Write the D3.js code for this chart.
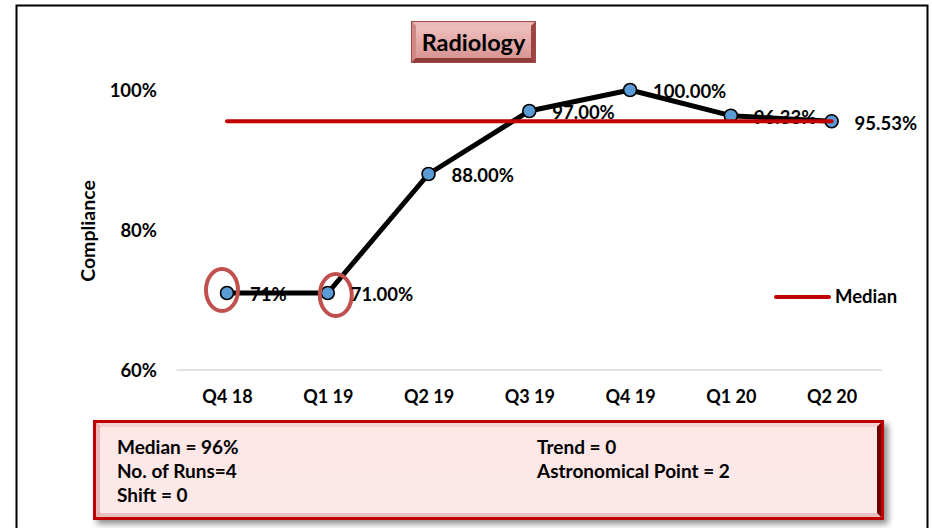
<!DOCTYPE html>
<html>
<head>
<meta charset="utf-8">
<script src="https://cdn.jsdelivr.net/npm/d3@7"></script>
<style>
  html, body { margin: 0; padding: 0; background: #fff; }
  svg { display: block; }
  text { font-family: Lato, "Open Sans", sans-serif; font-weight: bold; fill: #000; }
</style>
</head>
<body>
<svg id="chart" width="932" height="528"></svg>
<script>
// ---- data ----
const categories = ["Q4 18", "Q1 19", "Q2 19", "Q3 19", "Q4 19", "Q1 20", "Q2 20"];
const compliance = [0.71, 0.71, 0.88, 0.97, 1.00, 0.9633, 0.9553];
const pointLabels = ["71%", "71.00%", "88.00%", "97.00%", "100.00%", "96.33%", "95.53%"];
const medianValue = 0.9553;
const yTicks = [0.6, 0.8, 1.0];
const astronomicalIdx = [0, 1];
const titleText = "Radiology";
const legendText = "Median";
const summaryLeft = ["Median = 96%", "No. of Runs=4", "Shift = 0"];
const summaryRight = ["Trend = 0", "Astronomical Point = 2"];

const svg = d3.select("#chart");
const defs = svg.append("defs");

// outer chart border
svg.append("rect").attr("x", 16.5).attr("y", 5.5).attr("width", 911).attr("height", 540)
  .attr("fill", "#fff").attr("stroke", "#000").attr("stroke-width", 2);

// scales
const x = d3.scalePoint().domain(categories).range([176.6, 882]).padding(0.5);
const y = d3.scaleLinear().domain([0.6, 1.0]).range([370, 90]);

// x axis line
svg.append("line").attr("x1", 176.6).attr("x2", 882).attr("y1", y(0.6)).attr("y2", y(0.6))
  .attr("stroke", "#d9d9d9").attr("stroke-width", 1.5);

// y tick labels
const yAxis = svg.append("g").attr("transform", "translate(157,0)")
  .call(d3.axisLeft(y).tickValues(yTicks).tickFormat(d3.format(".0%")).tickSize(0).tickPadding(0));
yAxis.select(".domain").remove();
yAxis.selectAll("text").style("font-family", "Lato, sans-serif").style("font-weight", "bold")
  .style("font-size", "18.5px").attr("fill", "#000").attr("dy", "0.35em");

// x tick labels
const xAxis = svg.append("g").attr("transform", "translate(0,389)")
  .call(d3.axisBottom(x).tickSize(0).tickPadding(0));
xAxis.select(".domain").remove();
xAxis.selectAll("text").style("font-family", "Lato, sans-serif").style("font-weight", "bold")
  .style("font-size", "18px").attr("fill", "#000").attr("dy", "0.35em").attr("y", 8);

// y axis title
svg.append("text").attr("transform", "translate(95,231) rotate(-90)")
  .attr("text-anchor", "middle").style("font-size", "19.5px").text("Compliance");

// series line
const line = d3.line().x((d, i) => x(categories[i])).y(d => y(d));
svg.append("path").datum(compliance).attr("d", line)
  .attr("fill", "none").attr("stroke", "#000").attr("stroke-width", 5).attr("stroke-linejoin", "round");

// markers
svg.selectAll("circle.pt").data(compliance).join("circle").attr("class", "pt")
  .attr("cx", (d, i) => x(categories[i])).attr("cy", d => y(d)).attr("r", 6.5)
  .attr("fill", "#5b9bd5").attr("stroke", "#000").attr("stroke-width", 1.6);

// astronomical point ellipses
const ellOffsets = [[-5, -3], [8, 2]];
svg.selectAll("ellipse.astro").data(astronomicalIdx).join("ellipse").attr("class", "astro")
  .attr("cx", (d, k) => x(categories[d]) + ellOffsets[k][0])
  .attr("cy", (d, k) => y(compliance[d]) + ellOffsets[k][1])
  .attr("rx", 16).attr("ry", 21)
  .attr("fill", "none").attr("stroke", "#c0504d").attr("stroke-width", 4);

// data labels
svg.selectAll("text.lbl").data(compliance).join("text").attr("class", "lbl")
  .attr("x", (d, i) => x(categories[i]) + 23).attr("y", d => y(d) + 2)
  .attr("dy", "0.35em").style("font-size", "18.5px")
  .text((d, i) => pointLabels[i]);

// median line
svg.append("line")
  .attr("x1", x(categories[0])).attr("x2", x(categories[categories.length - 1]))
  .attr("y1", y(medianValue)).attr("y2", y(medianValue))
  .attr("stroke", "#c00000").attr("stroke-width", 4).attr("stroke-linecap", "round");

// legend
svg.append("line").attr("x1", 776).attr("x2", 829).attr("y1", 297).attr("y2", 297)
  .attr("stroke", "#c00000").attr("stroke-width", 4).attr("stroke-linecap", "round");
svg.append("text").attr("x", 835).attr("y", 297).attr("dy", "0.35em")
  .style("font-size", "18.5px").text(legendText);

// bevel helper
function bevelBox(g, x0, y0, w, h, b, cols, faceId) {
  const x1 = x0 + w, y1 = y0 + h;
  g.append("rect").attr("x", x0).attr("y", y0).attr("width", w).attr("height", h).attr("fill", cols.outer);
  g.append("polygon").attr("points", [[x0, y0], [x1, y0], [x1 - b, y0 + b], [x0 + b, y0 + b]].join(" ")).attr("fill", cols.top);
  g.append("polygon").attr("points", [[x0, y0], [x0 + b, y0 + b], [x0 + b, y1 - b], [x0, y1]].join(" ")).attr("fill", cols.left);
  g.append("polygon").attr("points", [[x1, y0], [x1, y1], [x1 - b, y1 - b], [x1 - b, y0 + b]].join(" ")).attr("fill", cols.right);
  g.append("polygon").attr("points", [[x0, y1], [x1, y1], [x1 - b, y1 - b], [x0 + b, y1 - b]].join(" ")).attr("fill", cols.bottom);
  g.append("rect").attr("x", x0 + b).attr("y", y0 + b).attr("width", w - 2 * b).attr("height", h - 2 * b)
    .attr("fill", `url(#${faceId})`);
  g.append("rect").attr("x", x0 + 0.5).attr("y", y0 + 0.5).attr("width", w - 1).attr("height", h - 1)
    .attr("fill", "none").attr("stroke", cols.stroke).attr("stroke-width", 1);
}

// title box gradient
const tg = defs.append("linearGradient").attr("id", "titleFace").attr("x1", 0).attr("y1", 0).attr("x2", 0).attr("y2", 1);
tg.append("stop").attr("offset", "0%").attr("stop-color", "#efbfbe");
tg.append("stop").attr("offset", "100%").attr("stop-color", "#d99594");
const titleG = svg.append("g");
bevelBox(titleG, 411, 21, 125, 42, 5,
  { outer: "#c0706e", top: "#e9b8b7", left: "#cf8886", right: "#9c4442", bottom: "#8e3c3a", stroke: "#a24a48" }, "titleFace");
titleG.append("text").attr("x", 473.5).attr("y", 43).attr("dy", "0.35em").attr("text-anchor", "middle")
  .style("font-size", "23.5px").text(titleText);

// summary box
const shadow = defs.append("filter").attr("id", "shadow").attr("x", "-5%").attr("y", "-20%").attr("width", "115%").attr("height", "150%");
shadow.append("feDropShadow").attr("dx", 4).attr("dy", 4).attr("stdDeviation", 3).attr("flood-color", "#000").attr("flood-opacity", 0.45);
const sg = defs.append("linearGradient").attr("id", "sumFace").attr("x1", 0).attr("y1", 0).attr("x2", 0).attr("y2", 1);
sg.append("stop").attr("offset", "0%").attr("stop-color", "#fde6e6");
sg.append("stop").attr("offset", "100%").attr("stop-color", "#fde9e9");
const sumG = svg.append("g");
sumG.append("rect").attr("x", 93).attr("y", 420).attr("width", 791).attr("height", 100)
  .attr("fill", "#c00000").attr("filter", "url(#shadow)");
bevelBox(sumG, 93, 420, 791, 100, 7,
  { outer: "#c00000", top: "#f7d2d2", left: "#eab8b8", right: "#6e0000", bottom: "#e8c0c0", stroke: "#c00000" }, "sumFace");
sumG.append("rect").attr("x", 94.5).attr("y", 421.5).attr("width", 788).attr("height", 97)
  .attr("fill", "none").attr("stroke", "#c00000").attr("stroke-width", 3);

sumG.selectAll("text.sl").data(summaryLeft).join("text").attr("class", "sl")
  .attr("x", 117).attr("y", (d, i) => 447 + i * 24).attr("dy", "0.35em")
  .style("font-size", "19px").text(d => d);
sumG.selectAll("text.sr").data(summaryRight).join("text").attr("class", "sr")
  .attr("x", 537).attr("y", (d, i) => 447 + i * 24).attr("dy", "0.35em")
  .style("font-size", "19px").text(d => d);
</script>
</body>
</html>
